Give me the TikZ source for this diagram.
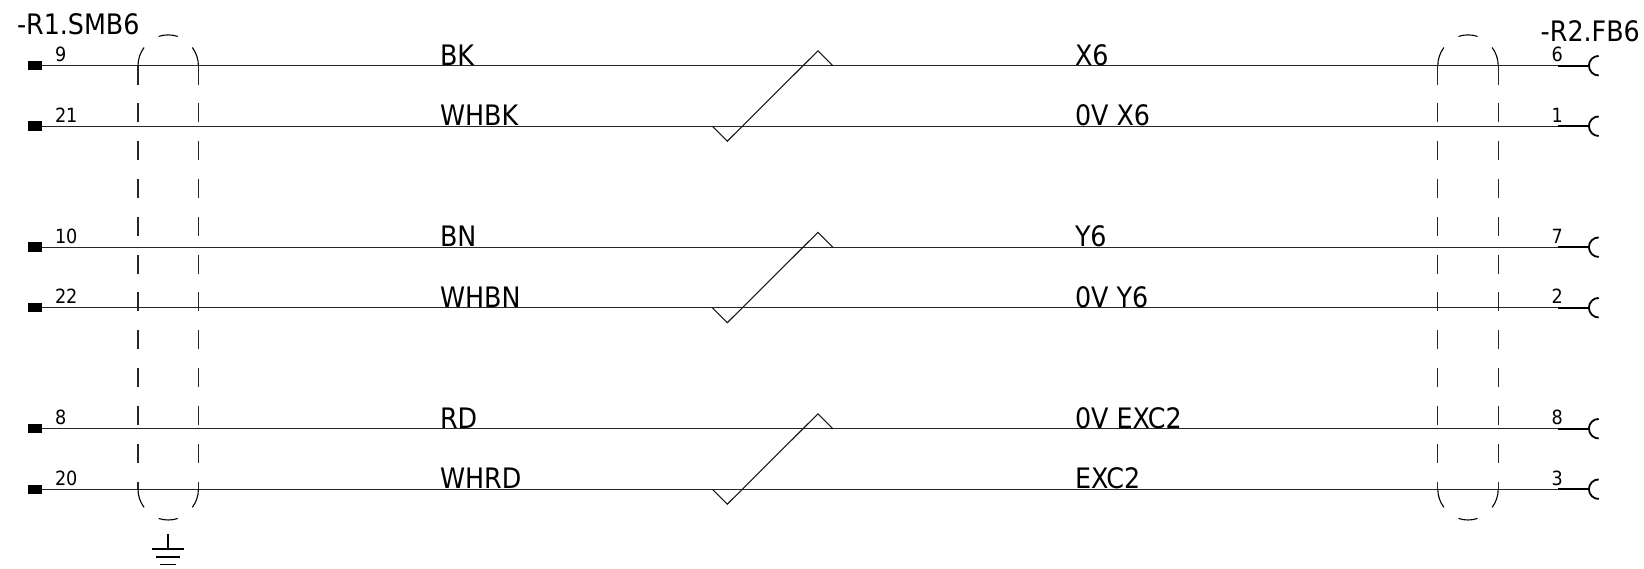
\documentclass[tikz,border=0pt]{standalone}
\usepackage{fontspec}
\setmainfont{DejaVu Sans Condensed}
\tikzset{
  wire/.style={draw=black!85,line width=1.35pt},
  termL/.style={fill=black,draw=none,minimum width=14pt,minimum height=9.4pt,inner sep=0pt,outer sep=0pt},
  termR/.style={draw=black,line width=1.8pt},
  shieldv/.style={draw=black!85,line width=1.1pt,dash pattern=on 18.9pt off 18.9pt},
  shielda/.style={draw=black,line width=1.1pt},
  cross/.style={draw=black!90,line width=1.1pt},
  earth/.style={draw=black,line width=1.5pt},
  numtxt/.style={font=\fontsize{19.6pt}{20pt}\selectfont,anchor=base west,inner sep=0pt,outer sep=0pt},
  sigtxt/.style={font=\fontsize{28.2pt}{29pt}\selectfont,anchor=base west,inner sep=0pt,outer sep=0pt},
}
\begin{document}
\begin{tikzpicture}[x=1pt,y=1pt]
\useasboundingbox (0,0) rectangle (1644,568);
% wires
\foreach \n/\y/\la/\lb/\ra/\rb/\yy in {
  a/502.3/9/BK/X6/6/0,
  b/441.8/21/WHBK/0V X6/1/0,
  c/320.8/10/BN/Y6/7/0,
  d/260.3/22/WHBN/0V Y6/2/0,
  e/139.3/8/RD/0V EXC2/8/0,
  f/78.8/20/WHRD/EXC2/3/0}{
  \node[termL] (tl\n) at (35.3,\y) {};
  \coordinate (tr\n) at (1558,\y);
  \coordinate (te\n) at (1588.3,\y);
  \draw[wire] (tl\n.east) -- (tr\n);
  \draw[termR] (tr\n) -- (te\n);
  \draw[termR] (1598.7,\y+9.8) arc[start angle=90,end angle=270,radius=9.8pt];
  \node[numtxt] (nl\n) at (55,\y+3.8) {\la};
  \node[numtxt] (nr\n) at (1551.5,\y+3.8) {\rb};
  \node[sigtxt] (sl\n) at (440,\y+0.4) {\lb};
  \node[sigtxt] (sr\n) at (1075,\y+0.4) {\ra};
}
% crossovers
\foreach \s/\y in {0/441.8,1/260.3,2/78.8}{
  \draw[cross] (712.3,\y) -- ++(15,-15) -- ++(90.7,90.4) -- ++(15,-15.1);
}
% shields
\foreach \c in {168.2,1468}{
  \draw[shieldv] (\c-30.2,502.3) -- (\c-30.2,78.8);
  \draw[shieldv] (\c+30.2,502.3) -- (\c+30.2,78.8);
  \draw[shielda] (\c-30.2,502.3) arc[start angle=180,end angle=143,radius=30.2pt];
  \draw[shielda] (\c+30.2,502.3) arc[start angle=0,end angle=37,radius=30.2pt];
  \draw[shielda] ([shift={(72:30.8pt)}]\c,502.3) arc[start angle=72,end angle=108,radius=30.8pt];
  \draw[shielda] (\c-30.2,78.8) arc[start angle=180,end angle=217,radius=30.2pt];
  \draw[shielda] (\c+30.2,78.8) arc[start angle=0,end angle=-37,radius=30.2pt];
  \draw[shielda] ([shift={(-72:30.8pt)}]\c,78.8) arc[start angle=-72,end angle=-108,radius=30.8pt];
}
% earth
\draw[earth] (168,34) -- (168,19);
\draw[earth] (152,19) -- (184,19);
\draw[earth] (156,11) -- (180,11);
\draw[earth] (160,3.3) -- (176,3.3);
% titles
\node[sigtxt] (titleL) at (17,533) {-R1.SMB6};
\node[sigtxt] (titleR) at (1540.7,526.3) {-R2.FB6};
\end{tikzpicture}
\end{document}
